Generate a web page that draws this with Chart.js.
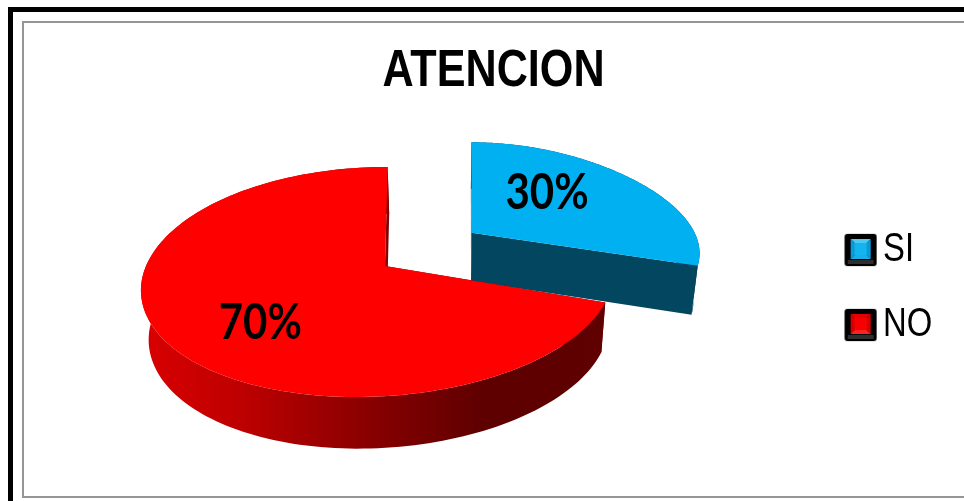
<!DOCTYPE html>
<html>
<head>
<meta charset="utf-8">
<style>html,body{margin:0;padding:0;background:#fff;overflow:hidden}canvas{display:block}</style>
<script src="https://cdn.jsdelivr.net/npm/chart.js@4/dist/chart.umd.js"></script>
</head>
<body>
<canvas id="c" width="964" height="501"></canvas>
<script>
const categories = ['SI', 'NO'];
const percentages = [30, 70];
const sliceColors = ['#00b0f0', '#ff0000'];
const sliceOffsets = [60, 0];
const chartTitle = 'ATENCION';
const textFont = '"Liberation Sans", Arial, sans-serif';
const captionFont = 'Lato, "Liberation Sans", sans-serif';
const narrow = 0.82;      // horizontal squeeze of the legend
const titleNarrow = 0.83; // horizontal squeeze of the title
const captionNarrow = 0.84;

// Tilted-plate projection for the pie: the library supplies the angles,
// radius and offset; these constants turn them into a perspective view.
const plate = { cx: 385, cy: 266, bx: 233, ay: 112.8, p: 0.139, vx: 450, shrink: 0.975, depth: 49 };

function project(lx, ly, ox, oy) {
  const X = lx + ox, Y = ly + oy, d = 1 - plate.p * Y;
  const warp = -6 * lx * lx - 14 * ly - 11 * ly * ly;
  const lift = Math.hypot(ox, oy) / 0.5;
  const trim = lift * (-4 + 14.2 * lx - 8 * ly + 30 * lx * (ly - 0.309));
  return {
    x: plate.cx + (plate.bx * X + warp) / d + trim,
    y: plate.cy + plate.ay * Y / d - lift * 1.5 * (1 + ly)
  };
}
function lower(pt) {
  return {
    x: plate.vx + (pt.x - plate.vx) * plate.shrink,
    y: pt.y + plate.depth + (pt.y - plate.cy) * 0.02
  };
}
function tracePath(ctx, pts) {
  ctx.beginPath();
  pts.forEach((q, i) => (i ? ctx.lineTo(q.x, q.y) : ctx.moveTo(q.x, q.y)));
  ctx.closePath();
}
function wallStyle(ctx, index) {
  if (index === 0) return '#02465f';
  const g = ctx.createLinearGradient(146, 0, 604, 0);
  g.addColorStop(0, '#d80000');
  g.addColorStop(0.2, '#bf0000');
  g.addColorStop(0.5, '#860000');
  g.addColorStop(0.74, '#5e0000');
  g.addColorStop(1, '#600000');
  return g;
}

// Arcs are painted as extruded wedges instead of flat circle sectors.
Chart.ArcElement.prototype.draw = function (ctx) {
  const { startAngle, endAngle, outerRadius } = this;
  const offset = (this.options.offset || 0) / outerRadius;
  const mid = (startAngle + endAngle) / 2;
  const ox = Math.cos(mid) * offset, oy = Math.sin(mid) * offset;
  const rim = [];
  const steps = 160;
  for (let i = 0; i <= steps; i++) {
    const a = startAngle + (endAngle - startAngle) * i / steps;
    rim.push(project(Math.cos(a), Math.sin(a), ox, oy));
  }
  const apex = project(0, 0, ox, oy);
  const style = wallStyle(ctx, this.$context.index);
  ctx.save();
  ctx.fillStyle = style;
  tracePath(ctx, rim.concat(rim.map(lower).reverse()));
  ctx.fill();
  const first = rim[0], last = rim[rim.length - 1];
  tracePath(ctx, [apex, first, lower(first), lower(apex)]);
  ctx.fill();
  tracePath(ctx, [apex, last, lower(last), lower(apex)]);
  ctx.fill();
  ctx.fillStyle = this.options.backgroundColor;
  tracePath(ctx, [apex].concat(rim));
  ctx.fill();
  ctx.restore();
};

// Bevelled legend swatch, used as the legend's point style. It is drawn
// wider than tall because the legend is squeezed horizontally as a whole.
function swatch(color, light, side, low) {
  const s = document.createElement('canvas');
  s.width = Math.round(34 / narrow); s.height = 34;
  const g = s.getContext('2d');
  g.scale(1 / narrow, 1);
  g.shadowColor = 'rgba(0,0,0,0.45)';
  g.shadowBlur = 2;
  g.fillStyle = '#000';
  g.beginPath();
  g.roundRect(1, 1, 32, 32, 3);
  g.fill();
  g.shadowBlur = 0;
  g.fillStyle = '#2e2e2e';
  g.fillRect(4, 27, 26, 4);
  const tri = (c, a, b, d, e) => {
    g.fillStyle = c;
    g.beginPath();
    g.moveTo(a, b); g.lineTo(d, e); g.lineTo(17, 16); g.closePath();
    g.fill();
  };
  tri(light, 7, 6, 27, 6);
  tri(side, 7, 6, 7, 26);
  tri(side, 27, 6, 27, 26);
  tri(low, 7, 26, 27, 26);
  g.fillStyle = color;
  g.fillRect(11, 10, 12, 12);
  return s;
}
const swatches = [
  swatch('#14b4f0', '#4cc8f2', '#0a9ad6', '#1aaee8'),
  swatch('#f80000', '#e80000', '#d40000', '#ff2020')
];

const frame = {
  id: 'frame',
  beforeDraw(chart) {
    const ctx = chart.ctx;
    ctx.save();
    ctx.fillStyle = '#fff';
    ctx.fillRect(0, 0, chart.width, chart.height);
    ctx.fillStyle = '#000';
    ctx.fillRect(8, 7, chart.width, 5);
    ctx.fillRect(8, 7, 5, chart.height);
    ctx.fillStyle = '#969696';
    ctx.fillRect(22, 21, chart.width, 2);
    ctx.fillRect(22, 21, 2, 477);
    ctx.fillRect(22, 496, chart.width, 2);
    ctx.restore();
  }
};

// Title and legend keep their library drawing, wrapped in a narrowing transform.
const legendTextX = 883, legendShiftY = 41;
const condense = {
  id: 'condense',
  afterLayout(chart) {
    const title = chart.titleBlock, legend = chart.legend;
    if (title && !title._condensed) {
      const base = title.draw;
      title._condensed = true;
      title.draw = function () {
        const mid = (this.left + this.right) / 2;
        const ctx = this.ctx;
        ctx.save();
        ctx.translate(mid, 0);
        ctx.scale(titleNarrow, 1);
        ctx.translate(-mid, 0);
        base.call(this);
        ctx.restore();
      };
    }
    if (legend && !legend._condensed) {
      const base = legend.draw;
      legend._condensed = true;
      legend.draw = function () {
        const labels = this.options.labels;
        const textX = this.left + labels.padding + labels.boxWidth + labels.font.size / 2;
        const ctx = this.ctx;
        ctx.save();
        ctx.translate(legendTextX - narrow * textX, legendShiftY);
        ctx.scale(narrow, 1);
        base.call(this);
        ctx.restore();
      };
    }
  }
};

// Percentage captions placed on the tilted slices.
const captionSpots = [{ r: 0.43, dy: -15 }, { r: 0.59, dy: 16 }];
const captions = {
  id: 'captions',
  afterDatasetsDraw(chart) {
    const ctx = chart.ctx;
    const arcs = chart.getDatasetMeta(0).data;
    ctx.save();
    ctx.font = 'bold 50px ' + captionFont;
    ctx.fillStyle = '#000';
    ctx.textAlign = 'center';
    ctx.textBaseline = 'middle';
    arcs.forEach((arc, i) => {
      const mid = (arc.startAngle + arc.endAngle) / 2;
      const off = (arc.options.offset || 0) / arc.outerRadius;
      const spot = captionSpots[i];
      const q = project(Math.cos(mid) * spot.r, Math.sin(mid) * spot.r,
        Math.cos(mid) * off, Math.sin(mid) * off);
      ctx.save();
      ctx.translate(q.x, q.y + spot.dy);
      ctx.scale(captionNarrow, 1);
      ctx.fillText(percentages[i] + '%', 0, 0);
      ctx.restore();
    });
    ctx.restore();
  }
};

new Chart(document.getElementById('c'), {
  type: 'pie',
  data: {
    labels: categories,
    datasets: [{
      data: percentages,
      backgroundColor: sliceColors,
      offset: sliceOffsets,
      borderWidth: 0
    }]
  },
  options: {
    responsive: false,
    animation: false,
    radius: 120,
    layout: { padding: { left: 23, right: 0, top: 22, bottom: 30 } },
    plugins: {
      tooltip: { enabled: false },
      title: {
        display: true,
        text: chartTitle,
        color: '#000',
        font: { family: textFont, size: 52, weight: 'bold', lineHeight: 1.2 },
        padding: { top: 18, bottom: 0 }
      },
      legend: {
        position: 'right',
        align: 'center',
        labels: {
          color: '#000',
          font: { family: textFont, size: 40 },
          usePointStyle: true,
          boxWidth: 15,
          padding: 35,
          generateLabels: () => categories.map((text, i) => ({
            text, index: i, datasetIndex: 0,
            fontColor: '#000', lineWidth: 0, hidden: false,
            pointStyle: swatches[i]
          }))
        }
      }
    }
  },
  plugins: [frame, condense, captions]
});
</script>
</body>
</html>
